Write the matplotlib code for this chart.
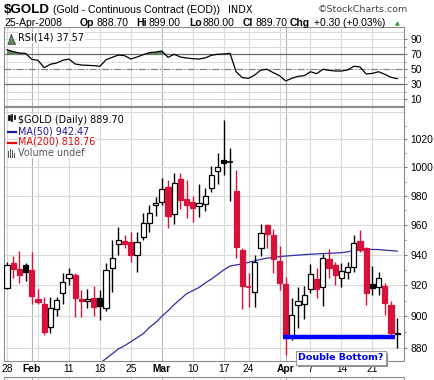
import matplotlib
matplotlib.use('Agg')
import matplotlib.pyplot as plt
import matplotlib.patheffects as pe
import numpy as np
from matplotlib.ticker import FixedLocator, NullFormatter, FuncFormatter
from matplotlib.patches import Rectangle

# ---- data (daily, Jan 28 .. Apr 25 2008) ----
opens = [918.4, 934.3, 930.8, 933.2, 929.8, 911.0, 907.8, 893.0, 904.4, 914.7,
         924.5, 926.4, 910.8, 909.6, 911.5, 911.5, 905.1, 931.0, 947.2, 949.0,
         948.5, 940.0, 951.7, 961.2, 973.7, 975.5, 986.2, 967.3, 991.8, 977.8,
         975.5, 973.2, 974.2, 985.2, 997.2, 1005.2, 1003.5, 983.4, 943.2, 919.0,
         915.4, 944.4, 960.0, 953.2, 936.0, 920.8, 887.7, 907.2, 907.6, 917.5,
         924.0, 919.0, 937.4, 933.2, 924.5, 928.4, 931.7, 949.0, 944.4, 920.8,
         919.0, 919.5, 907.2, 888.7]
highs = [935.4, 939.2, 942.5, 934.3, 942.0, 917.3, 912.5, 912.5, 912.5, 928.2,
         931.0, 928.2, 916.6, 917.3, 919.5, 916.6, 934.3, 949.6, 958.8, 953.2,
         955.0, 955.0, 968.0, 973.7, 979.4, 992.7, 991.1, 995.8, 995.8, 991.1,
         980.2, 988.0, 985.2, 1001.1, 1010.0, 1034.0, 1013.5, 998.1, 944.4, 928.2,
         939.8, 960.4, 960.4, 957.1, 945.9, 925.5, 911.5, 919.0, 919.5, 933.7,
         931.0, 940.4, 943.9, 935.4, 934.3, 935.4, 953.2, 956.6, 945.4, 932.6,
         928.8, 921.2, 909.8, 899.0]
lows = [917.3, 924.9, 921.2, 922.9, 908.0, 907.8, 888.1, 889.6, 900.1, 907.8,
        920.0, 899.3, 899.3, 905.1, 900.1, 897.6, 903.1, 915.8, 940.0, 944.5,
        935.4, 928.8, 949.6, 955.0, 966.3, 973.7, 958.1, 960.4, 970.7, 964.5,
        961.8, 965.6, 969.8, 982.9, 988.3, 994.6, 976.7, 937.7, 904.6, 906.1,
        906.1, 939.4, 944.7, 928.2, 916.6, 875.7, 885.0, 892.4, 898.2, 914.7,
        911.5, 906.7, 924.6, 920.0, 918.6, 924.3, 928.8, 941.6, 907.2, 913.6,
        913.6, 900.8, 887.1, 880.0]
closes = [933.2, 930.8, 926.4, 928.4, 913.2, 909.3, 890.2, 905.1, 910.3, 922.3,
          927.1, 911.5, 910.0, 911.0, 906.1, 906.6, 929.8, 937.6, 949.6, 947.5,
          940.0, 948.8, 961.2, 968.0, 975.3, 984.6, 966.3, 988.7, 977.1, 973.7,
          971.8, 974.8, 980.2, 994.4, 1000.0, 1002.8, 1004.0, 945.4, 919.6, 918.5,
          935.0, 954.6, 954.0, 937.0, 921.6, 887.7, 900.8, 909.8, 913.6, 927.1,
          917.5, 937.6, 931.4, 926.4, 929.3, 932.0, 947.9, 943.2, 915.1, 918.0,
          924.8, 908.7, 889.4, 889.7]
prev_close_start = 925.0

ma50_start = 15
ma50 = [870.5, 873.5, 876.5, 879.5, 881.5, 884.0, 886.5, 889.0, 893.0, 896.0,
        900.0, 903.5, 907.5, 911.0, 914.5, 916.5, 918.5, 921.5, 924.0, 927.0,
        930.0, 932.6, 933.3, 934.0, 935.0, 936.0, 937.0, 937.8, 938.2, 938.8,
        939.2, 939.5, 939.8, 940.1, 940.4, 940.6, 940.8, 941.0, 941.2, 941.4,
        942.0, 942.8, 943.5, 943.7, 943.6, 943.5, 943.1, 942.8, 942.47]

rsi = [76.1, 73.5, 71.7, 71.3, 63.3, 62.0, 52.2, 56.7, 58.4, 62.0,
       63.7, 57.1, 55.7, 55.3, 54.9, 54.0, 62.8, 66.0, 69.0, 68.1,
       63.7, 66.4, 69.5, 72.2, 73.0, 74.4, 66.0, 70.0, 66.4, 65.1,
       64.1, 63.7, 65.1, 68.7, 70.0, 70.4, 71.3, 46.8, 38.8, 38.0,
       42.4, 49.1, 50.0, 45.5, 41.5, 34.4, 38.0, 40.6, 41.5, 46.8,
       44.2, 50.0, 48.6, 47.7, 47.7, 49.1, 54.0, 53.1, 43.7, 44.6,
       46.8, 43.3, 39.3, 37.57]

tick_idx = [0, 4, 10, 15, 20, 25, 30, 35, 39, 45, 49, 54, 59]
tick_lbl = ['28', 'Feb', '11', '18', '25', 'Mar', '10', '17', '24', 'Apr', '7', '14', '21']
week_idx = [0, 5, 10, 15, 20, 30, 35, 39, 44, 49, 54, 59]
month_idx = [4, 25, 45]

price_ticks = [880, 900, 920, 940, 960, 980, 1000, 1020]
rsi_ticks = [10, 30, 50, 70, 90]

db_level = 886.7
db_from, db_to = 44.5, 62.7

# ---- layout helpers (pixels of a 435x380 image) ----
W, H = 435, 380
def fx(px):
    return px / W
def fy(py):
    return 1 - py / H

RED = '#d8113a'
GRID = '#dadada'
MGRID = '#b4b4b4'
SPINE = '#8c8c8c'

fig = plt.figure(figsize=(4.35, 3.8), dpi=100)
left, right = 4.5, 404
ax_r = fig.add_axes([fx(left), fy(106), fx(right - left), (106 - 27) / H])
ax_p = fig.add_axes([fx(left), fy(360.5), fx(right - left), (360.5 - 107) / H])
ax_v = fig.add_axes([fx(left), fy(392), fx(right - left), (392 - 376.5) / H])

n = len(closes)
x = np.arange(n)
xlim = (-0.4, 64.1)

for a in (ax_r, ax_p, ax_v):
    a.set_xlim(*xlim)
    for s in a.spines.values():
        s.set_color(SPINE)
        s.set_linewidth(0.8)
    for w in week_idx:
        a.axvline(w, color=GRID, lw=0.8, zorder=0)
    for m in month_idx:
        a.axvline(m, color=MGRID, lw=0.8, zorder=0)
ax_v.set_xticks([])
ax_v.set_yticks([])

# ---- RSI panel ----
ax_r.set_ylim(1.07, 106.4)
for g in range(10, 101, 10):
    ax_r.axhline(g, color=GRID, lw=0.7, zorder=0)
ax_r.axhline(70, color='#6a6a6a', lw=0.9, zorder=1)
ax_r.axhline(30, color='#6a6a6a', lw=0.9, zorder=1)
ax_r.axhline(50, color='#7a7a7a', lw=0.8, ls='-.', dashes=(6, 2, 1, 2), zorder=1)
rsi_arr = np.array(rsi)
ax_r.fill_between(x, 70, rsi_arr, where=rsi_arr > 70, interpolate=True,
                  color='#5e8c5e', lw=0, zorder=2)
ax_r.plot(x, rsi_arr, color='black', lw=0.9, zorder=3)
ax_r.yaxis.tick_right()
ax_r.yaxis.set_major_locator(FixedLocator(rsi_ticks))
ax_r.yaxis.set_minor_locator(FixedLocator([20, 40, 60, 80]))
ax_r.tick_params(axis='y', which='both', labelsize=7.4, length=2.5, pad=2, color='#777777')
ax_r.tick_params(axis='y', which='minor', length=1.5)
ax_r.set_xticks([])
for lb in ax_r.get_yticklabels():
    lb.set_family('Liberation Sans')
ax_r.text(0.035, 0.93, 'RSI(14) 37.57', transform=ax_r.transAxes, fontsize=6.9,
          family='DejaVu Sans', va='top', ha='left', zorder=5,
          bbox=dict(fc='white', ec='none', pad=0.5))
ax_r.add_patch(plt.Polygon([[0.009, 0.78], [0.017, 0.91], [0.022, 0.84], [0.028, 0.78]],
                           closed=True, transform=ax_r.transAxes, fc='#5e8c5e', ec='#333333',
                           lw=0.5, zorder=6))

# ---- price panel ----
ax_p.set_yscale('log')
ax_p.set_ylim(872.3, 1043.6)
for g in price_ticks + [1040]:
    ax_p.axhline(g, color=GRID, lw=0.8, zorder=0)
ax_p.yaxis.tick_right()
ax_p.yaxis.set_major_locator(FixedLocator(price_ticks))
ax_p.yaxis.set_major_formatter(FuncFormatter(lambda v, p: '%d' % v))
ax_p.yaxis.set_minor_locator(FixedLocator([890, 910, 930, 950, 970, 990, 1010, 1030]))
ax_p.yaxis.set_minor_formatter(NullFormatter())
ax_p.tick_params(axis='y', which='both', labelsize=7.4, length=2.5, pad=2, color='#777777')
ax_p.tick_params(axis='y', which='minor', length=1.5)
for lb in ax_p.get_yticklabels():
    lb.set_family('Liberation Sans')

ax_p.set_xticks(tick_idx)
ax_p.set_xticklabels(tick_lbl, fontsize=7.4, family='Liberation Sans')
ax_p.tick_params(axis='x', length=0, pad=2.5)
for lb in ax_p.get_xticklabels():
    if lb.get_text() in ('Feb', 'Mar', 'Apr'):
        lb.set_fontweight('bold')

# MA(50)
ax_p.plot(np.arange(ma50_start, ma50_start + len(ma50)), ma50, color='#2e2ea6', lw=0.9, zorder=2)

# candles
bw = 0.84
prev = prev_close_start
for i in range(n):
    o, h, l, c = opens[i], highs[i], lows[i], closes[i]
    col = 'black' if c >= prev else RED
    hollow = c >= o
    ax_p.vlines(i, l, h, color=col, lw=1.0, zorder=3)
    if abs(c - o) < 0.6:
        ax_p.hlines((o + c) / 2, i - bw / 2, i + bw / 2, color=col, lw=1.2, zorder=4)
    else:
        lo_, hi_ = min(o, c), max(o, c)
        ax_p.bar(i, hi_ - lo_, bottom=lo_, width=bw, facecolor='white' if hollow else col,
                 edgecolor=col, lw=0.9, zorder=4)
    prev = c

# double bottom annotation
ax_p.hlines(db_level, db_from, db_to, color='#0000ff', lw=3.2, zorder=6)
t = fig.text(fx(341), fy(357.7), 'Double Bottom?', color='#0000ee', fontsize=6.8,
             family='DejaVu Sans', fontweight='bold', ha='center', va='center', zorder=10,
             bbox=dict(boxstyle='square,pad=0.25', fc='white', ec='#9a9a9a', lw=0.8))
t.get_bbox_patch().set_path_effects([
    pe.SimplePatchShadow(offset=(1.5, -1.5), shadow_rgbFace='#8a8a8a', alpha=1.0),
    pe.Normal()])

# price legend
ax_p.text(0.035, 0.97, '$GOLD (Daily) 889.70', transform=ax_p.transAxes, fontsize=6.9,
          family='DejaVu Sans', va='top', color='black', zorder=7,
          bbox=dict(fc='white', ec='none', pad=0.3))
ax_p.text(0.035, 0.925, 'MA(50) 942.47', transform=ax_p.transAxes, fontsize=6.9,
          family='DejaVu Sans', va='top', color='#1a1a9a', zorder=7,
          bbox=dict(fc='white', ec='none', pad=0.3))
ax_p.text(0.035, 0.882, 'MA(200) 818.76', transform=ax_p.transAxes, fontsize=6.9,
          family='DejaVu Sans', va='top', color='#ee0000', zorder=7,
          bbox=dict(fc='white', ec='none', pad=0.3))
ax_p.text(0.035, 0.839, 'Volume undef', transform=ax_p.transAxes, fontsize=6.9,
          family='DejaVu Sans', va='top', color='#555555', zorder=7,
          bbox=dict(fc='white', ec='none', pad=0.3))
ax_p.plot([0.008, 0.03], [0.900, 0.900], transform=ax_p.transAxes, color='#1a1a9a', lw=1.6, zorder=8)
ax_p.plot([0.008, 0.03], [0.857, 0.857], transform=ax_p.transAxes, color='#ee0000', lw=1.6, zorder=8)
for k, hh in enumerate([0.025, 0.035, 0.03, 0.02]):
    ax_p.add_patch(Rectangle((0.009 + k * 0.005, 0.800), 0.0035, hh, transform=ax_p.transAxes,
                             fc='#555555', ec='none', zorder=8))
for k, (b0, hh) in enumerate([(0.948, 0.02), (0.945, 0.028), (0.952, 0.018)]):
    ax_p.add_patch(Rectangle((0.009 + k * 0.007, b0), 0.004, hh, transform=ax_p.transAxes,
                             fc='black', ec='black', lw=0.5, zorder=8))

# ---- header ----
fig.text(fx(4), fy(13), '$GOLD', fontsize=9.6, fontweight='bold', family='Liberation Sans', va='baseline')
fig.text(fx(53), fy(13), '(Gold - Continuous Contract (EOD))', fontsize=7.6,
         family='Liberation Sans', va='baseline')
fig.text(fx(228), fy(13), 'INDX', fontsize=7.0, family='DejaVu Sans', va='baseline')
fig.text(fx(318), fy(12.5), '\u00a9StockCharts.com', fontsize=6.8, family='DejaVu Sans',
         va='baseline', color='#444444')

row2 = [(4, '25-Apr-2008', 'normal'), (80, 'Op', 'bold'), (97, '888.70', 'normal'),
        (136, 'Hi', 'bold'), (149, '899.00', 'normal'), (189, 'Lo', 'bold'),
        (203, '880.00', 'normal'), (243, 'Cl', 'bold'), (256, '889.70', 'normal'),
        (290, 'Chg', 'bold'), (314, '+0.30 (+0.03%)', 'normal')]
for px, s, wgt in row2:
    fig.text(fx(px), fy(26), s, fontsize=7.5, fontweight=wgt, family='Liberation Sans', va='baseline')
fig.text(fx(397), fy(25.5), '\u25b2', fontsize=4.5, color='#2e8b2e', family='DejaVu Sans',
         va='baseline', ha='center')

fig.savefig('out.png', dpi=100)
